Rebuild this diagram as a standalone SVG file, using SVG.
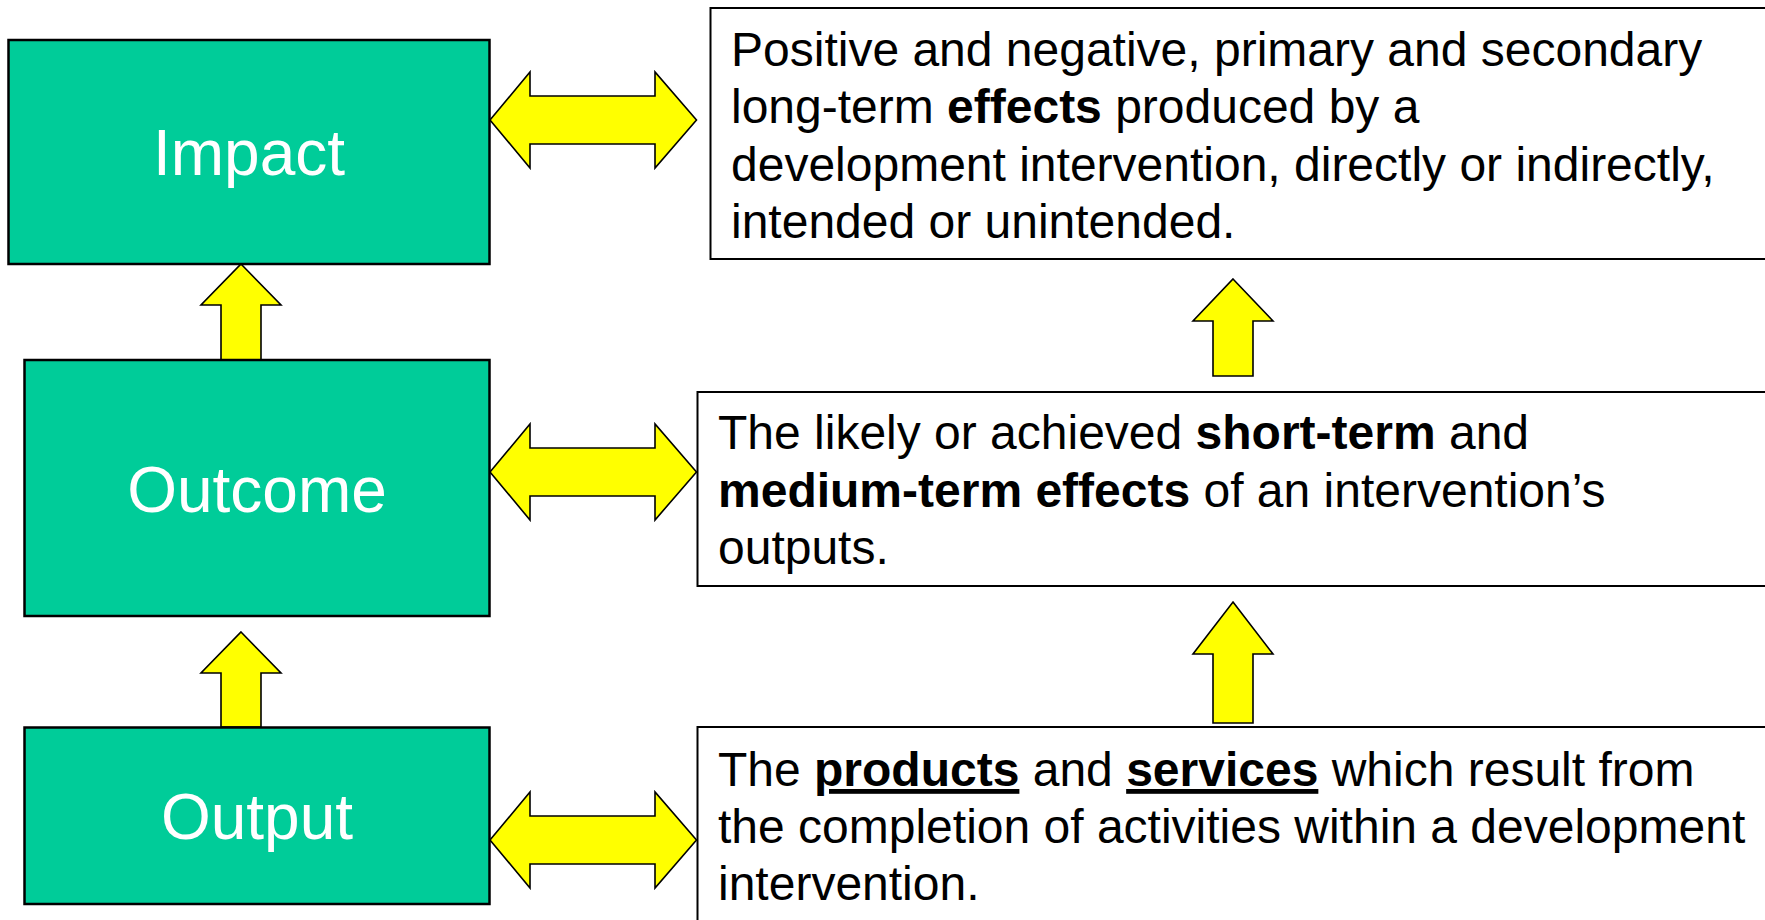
<svg xmlns="http://www.w3.org/2000/svg" width="1765" height="920" viewBox="0 0 1765 920">
<style>
.node{fill:#00CC99;stroke:#000;stroke-width:2.5}
.tbox{fill:#fff;stroke:#000;stroke-width:2}
.arr{fill:#FFFF00;stroke:#000;stroke-width:1.6;stroke-linejoin:miter}
.lbl{font-family:"Liberation Sans",Arial,sans-serif;font-size:64px;fill:#fff;text-anchor:middle}
.txt{font-family:"Liberation Sans",Arial,sans-serif;font-size:48px;fill:#000}
.b{font-weight:bold}
.u{text-decoration:underline}
</style>
<rect width="1765" height="920" fill="#fff"/>
<g id="connectors">
<path class="arr" d="M490,120 L530,72 L530,96 L655,96 L655,72 L696.5,120 L655,168 L655,144 L530,144 L530,168 Z"/>
<path class="arr" d="M490,472 L530,424 L530,448 L655,448 L655,424 L696.5,472 L655,520 L655,496 L530,496 L530,520 Z"/>
<path class="arr" d="M490,840 L530,792 L530,816 L655,816 L655,792 L696.5,840 L655,888 L655,864 L530,864 L530,888 Z"/>
<path class="arr" d="M241,264 L281,305 L261,305 L261,360 L221,360 L221,305 L201,305 Z"/>
<path class="arr" d="M241,632 L281,673 L261,673 L261,727 L221,727 L221,673 L201,673 Z"/>
<path class="arr" d="M1233,279 L1273,321 L1253,321 L1253,376 L1213,376 L1213,321 L1193,321 Z"/>
<path class="arr" d="M1233,602 L1273,654 L1253,654 L1253,723 L1213,723 L1213,654 L1193,654 Z"/>
</g>
<g id="impact">
<rect class="node" x="8.5" y="40" width="481" height="224"/>
<text class="lbl" x="249" y="175">Impact</text>
</g>
<g id="outcome">
<rect class="node" x="24.5" y="360" width="465" height="256"/>
<text class="lbl" x="257" y="512">Outcome</text>
</g>
<g id="output">
<rect class="node" x="24.5" y="727.5" width="465" height="176.5"/>
<text class="lbl" x="257" y="839">Output</text>
</g>
<g id="impact-def">
<rect class="tbox" x="710.5" y="8" width="1070" height="251"/>
<text class="txt" x="731" y="66">Positive and negative, primary and secondary</text>
<text class="txt" x="731" y="123">long-term <tspan class="b">effects</tspan> produced by a</text>
<text class="txt" x="731" y="181">development intervention, directly or indirectly,</text>
<text class="txt" x="731" y="238">intended or unintended.</text>
</g>
<g id="outcome-def">
<rect class="tbox" x="697.5" y="392" width="1080" height="194"/>
<text class="txt" x="718" y="449">The likely or achieved <tspan class="b">short-term</tspan> and</text>
<text class="txt" x="718" y="507"><tspan class="b">medium-term effects</tspan> of an intervention’s</text>
<text class="txt" x="718" y="564">outputs.</text>
</g>
<g id="output-def">
<rect class="tbox" x="697.5" y="727" width="1080" height="210"/>
<text class="txt" x="718" y="786">The <tspan class="b u">products</tspan> and <tspan class="b u">services</tspan> which result from</text>
<text class="txt" x="718" y="843">the completion of activities within a development</text>
<text class="txt" x="718" y="900">intervention.</text>
</g>
</svg>
